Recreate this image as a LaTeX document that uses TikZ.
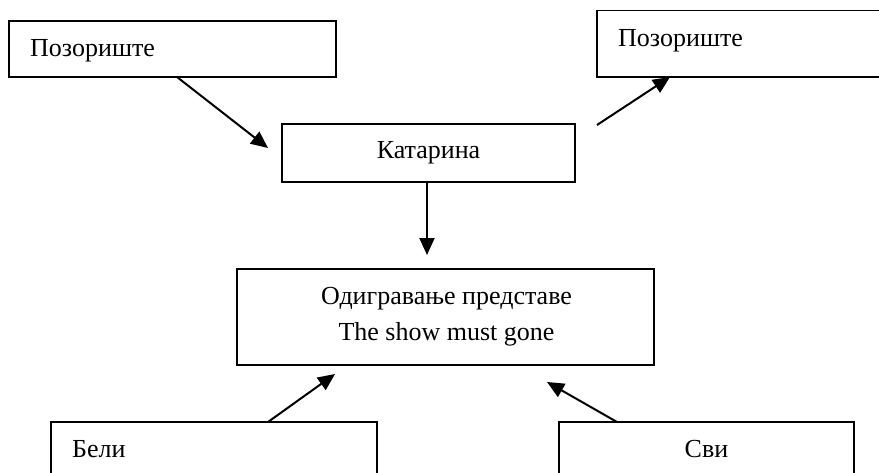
\documentclass[tikz,border=0pt]{standalone}
\usepackage{fontspec}
\setmainfont{Liberation Serif}
\usetikzlibrary{arrows.meta,calc}
\tikzset{
  box/.style={draw=black, line width=1.9pt, inner sep=0pt, outer sep=0pt, fill=white},
  lbl/.style={inner sep=0pt, font=\fontsize{26}{36}\selectfont},
  conn/.style={line width=2pt, -{Triangle[length=17pt,width=15pt]}}
}
\begin{document}
\begin{tikzpicture}[x=1pt,y=-1pt]
\useasboundingbox (0,0) rectangle (879,472);
\fill[white] (0,0) rectangle (879,472);
% boxes
\node[box, minimum width=327pt, minimum height=56pt] (b1) at (172.5,49) {};
\node[box, minimum width=300pt, minimum height=66.5pt] (b2) at (747,43.75) {};
\node[box, minimum width=293pt, minimum height=58pt] (b3) at (428.5,153) {};
\node[box, minimum width=417pt, minimum height=96pt] (b4) at (445.5,317) {};
\node[box, minimum width=326pt, minimum height=70pt] (b5) at (214,457) {};
\node[box, minimum width=295pt, minimum height=70pt] (b6) at (706.5,457) {};
% texts
\node[lbl, anchor=base west] (t1) at (30,56) {Позориште};
\node[lbl, anchor=base west] (t2) at (618,46) {Позориште};
\node[lbl, anchor=base] (t3) at (428.5,158) {Катарина};
\node[lbl, anchor=base] (t4a) at (446.5,304) {Одигравање представе};
\node[lbl, anchor=base] (t4b) at (446.5,340) {The show must gone};
\node[lbl, anchor=base west] (t5) at (72,457) {Бели};
\node[lbl, anchor=base] (t6) at (706.5,457) {Сви};
% connector ends
\coordinate (a1s) at ($(b1.south west)+(168,0)$);
\coordinate (a1e) at (268,148);
\coordinate (a2s) at (597,125);
\coordinate (a2e) at ($(b2.south west)+(73,0)$);
\coordinate (a3s) at ($(b3.south)+(-1.5,0)$);
\coordinate (a3e) at (427,255);
\coordinate (a4s) at ($(b5.north west)+(217,0)$);
\coordinate (a4e) at (335,374);
\coordinate (a5s) at ($(b6.north west)+(58,0)$);
\coordinate (a5e) at (547,382);
% connectors
\draw[conn] (a1s) -- (a1e);
\draw[conn] (a2s) -- (a2e);
\draw[conn] (a3s) -- (a3e);
\draw[conn] (a4s) -- (a4e);
\draw[conn] (a5s) -- (a5e);
\end{tikzpicture}
\end{document}
